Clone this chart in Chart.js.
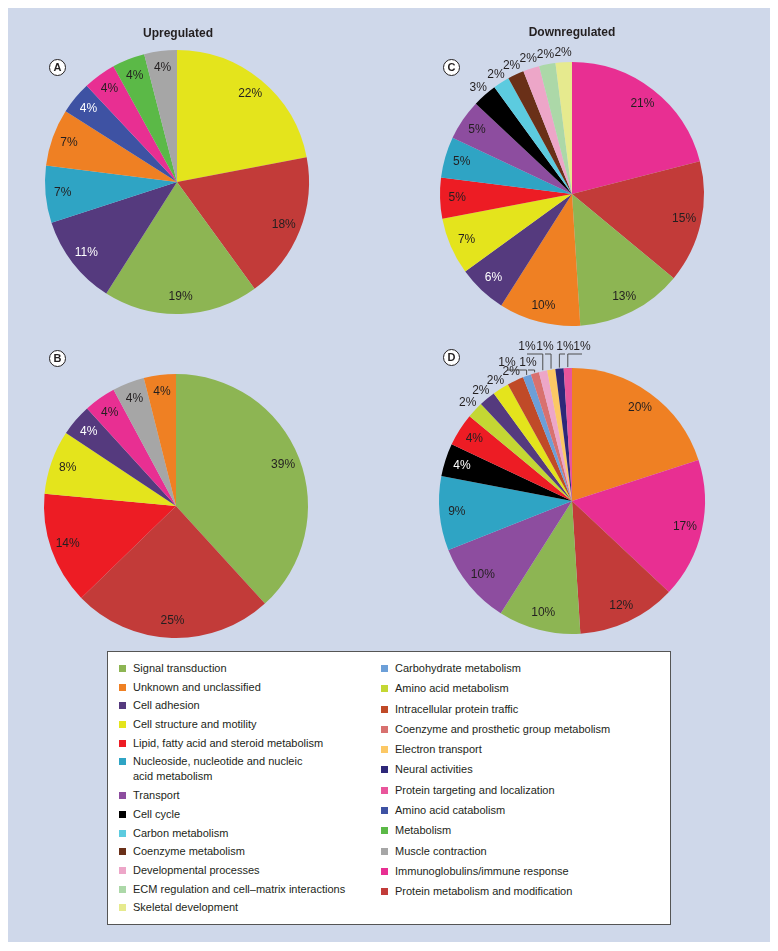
<!DOCTYPE html>
<html>
<head>
<meta charset="utf-8">
<script src="https://cdn.jsdelivr.net/npm/chart.js@4.4.0/dist/chart.umd.min.js"></script>
<style>
  body { margin: 0; background: #fff; font-family: "Liberation Sans", Arial, sans-serif; color: #231f20; }
  #page { position: relative; width: 778px; height: 951px; overflow: hidden; }
  #panel { position: absolute; left: 8px; top: 8px; width: 762px; height: 934px; background: #cfd8ea; }
  canvas.pie { position: absolute; }
  .title { position: absolute; font-weight: bold; font-size: 12px; transform: translate(-50%, -50%); white-space: nowrap; }
  .tag { position: absolute; width: 15px; height: 15px; border: 1.5px solid #231f20; border-radius: 50%;
         background: #fff; font-weight: bold; font-size: 11px; line-height: 15px; text-align: center; }
  #legend { position: absolute; left: 107px; top: 651px; width: 562px; height: 272px; background: #fff; border: 1px solid #555; }
  .col { position: absolute; top: 9px; }
  .item { display: flex; align-items: flex-start; font-size: 11px; line-height: 15px; white-space: pre-line; }
  .sw { width: 7px; height: 7px; margin-top: 4px; margin-right: 7px; flex: none; }
</style>
</head>
<body>
<div id="page">
  <div id="panel"></div>
  <canvas id="chartA" class="pie" width="340" height="340" style="left:7px;top:12px"></canvas>
  <canvas id="chartB" class="pie" width="340" height="340" style="left:6px;top:336px"></canvas>
  <canvas id="chartC" class="pie" width="340" height="340" style="left:402px;top:24px"></canvas>
  <canvas id="chartD" class="pie" width="340" height="340" style="left:402px;top:331px"></canvas>
  <div class="title" style="left:178px;top:33px">Upregulated</div>
  <div class="title" style="left:572px;top:32px">Downregulated</div>
  <div class="tag" style="left:49px;top:59px">A</div>
  <div class="tag" style="left:49px;top:350px">B</div>
  <div class="tag" style="left:443px;top:59px">C</div>
  <div class="tag" style="left:443px;top:349px">D</div>
  <div id="legend">
    <div class="col" id="legLeft" style="left:11px"></div>
    <div class="col" id="legRight" style="left:273px"></div>
  </div>
</div>
<script>
// legend order, two columns
const legendLeft = [
  'Signal transduction',
  'Unknown and unclassified',
  'Cell adhesion',
  'Cell structure and motility',
  'Lipid, fatty acid and steroid metabolism',
  'Nucleoside, nucleotide and nucleic acid metabolism',
  'Transport',
  'Cell cycle',
  'Carbon metabolism',
  'Coenzyme metabolism',
  'Developmental processes',
  'ECM regulation and cell\u2013matrix interactions',
  'Skeletal development'
];
const legendRight = [
  'Carbohydrate metabolism',
  'Amino acid metabolism',
  'Intracellular protein traffic',
  'Coenzyme and prosthetic group metabolism',
  'Electron transport',
  'Neural activities',
  'Protein targeting and localization',
  'Amino acid catabolism',
  'Metabolism',
  'Muscle contraction',
  'Immunoglobulins/immune response',
  'Protein metabolism and modification'
];

// A: upregulated
const catsA = ['Cell structure and motility', 'Protein metabolism and modification', 'Signal transduction',
  'Cell adhesion', 'Nucleoside, nucleotide and nucleic acid metabolism', 'Unknown and unclassified',
  'Amino acid catabolism', 'Immunoglobulins/immune response', 'Metabolism', 'Muscle contraction'];
const valuesA = [22, 18, 19, 11, 7, 7, 4, 4, 4, 4];

// B: upregulated
const catsB = ['Signal transduction', 'Protein metabolism and modification', 'Lipid, fatty acid and steroid metabolism',
  'Cell structure and motility', 'Cell adhesion', 'Immunoglobulins/immune response', 'Muscle contraction',
  'Unknown and unclassified'];
const valuesB = [39, 25, 14, 8, 4, 4, 4, 4];

// C: downregulated
const catsC = ['Immunoglobulins/immune response', 'Protein metabolism and modification', 'Signal transduction',
  'Unknown and unclassified', 'Cell adhesion', 'Cell structure and motility', 'Lipid, fatty acid and steroid metabolism',
  'Nucleoside, nucleotide and nucleic acid metabolism', 'Transport', 'Cell cycle', 'Carbon metabolism',
  'Coenzyme metabolism', 'Developmental processes', 'ECM regulation and cell\u2013matrix interactions',
  'Skeletal development'];
const valuesC = [21, 15, 13, 10, 6, 7, 5, 5, 5, 3, 2, 2, 2, 2, 2];

// D: downregulated
const catsD = ['Unknown and unclassified', 'Immunoglobulins/immune response', 'Protein metabolism and modification',
  'Signal transduction', 'Transport', 'Nucleoside, nucleotide and nucleic acid metabolism', 'Cell cycle',
  'Lipid, fatty acid and steroid metabolism', 'Amino acid metabolism', 'Cell adhesion', 'Cell structure and motility',
  'Intracellular protein traffic', 'Carbohydrate metabolism', 'Coenzyme and prosthetic group metabolism',
  'Developmental processes', 'Electron transport', 'Neural activities', 'Protein targeting and localization'];
const valuesD = [20, 17, 12, 10, 10, 9, 4, 4, 2, 2, 2, 2, 1, 1, 1, 1, 1, 1];

const colorOf = {
  'Signal transduction': '#8db553',
  'Unknown and unclassified': '#ef8023',
  'Cell adhesion': '#553a7e',
  'Cell structure and motility': '#e4e41c',
  'Lipid, fatty acid and steroid metabolism': '#ed1c24',
  'Nucleoside, nucleotide and nucleic acid metabolism': '#2fa4c4',
  'Transport': '#8d4d9f',
  'Cell cycle': '#000000',
  'Carbon metabolism': '#5ccbdf',
  'Coenzyme metabolism': '#6a3018',
  'Developmental processes': '#eda6c8',
  'ECM regulation and cell\u2013matrix interactions': '#acd8a8',
  'Skeletal development': '#e6ea8e',
  'Carbohydrate metabolism': '#6c9fd8',
  'Amino acid metabolism': '#c4d733',
  'Intracellular protein traffic': '#c04a28',
  'Coenzyme and prosthetic group metabolism': '#d8716f',
  'Electron transport': '#fcc865',
  'Neural activities': '#2e2879',
  'Protein targeting and localization': '#e9559b',
  'Amino acid catabolism': '#3e52a3',
  'Metabolism': '#5bb947',
  'Muscle contraction': '#a6a6a6',
  'Immunoglobulins/immune response': '#e82f92',
  'Protein metabolism and modification': '#c23b39'
};
// slices that get white labels
const lightText = ['Cell adhesion', 'Amino acid catabolism', 'Cell cycle', 'Neural activities'];

function buildLegend(el, names) {
  names.forEach(name => {
    const row = document.createElement('div');
    row.className = 'item';
    row.style.paddingBottom = el.id === 'legLeft' ? '3.7px' : '5.3px';
    const sw = document.createElement('span');
    sw.className = 'sw';
    sw.style.background = colorOf[name];
    const txt = document.createElement('span');
    txt.textContent = name.replace('nucleic acid', 'nucleic\nacid');
    row.appendChild(sw);
    row.appendChild(txt);
    el.appendChild(row);
  });
}
buildLegend(document.getElementById('legLeft'), legendLeft);
buildLegend(document.getElementById('legRight'), legendRight);

// percentage labels: inside, outside, or with leader lines
const pctLabels = {
  id: 'pctLabels',
  afterDatasetsDraw(chart, args, opts) {
    const ctx = chart.ctx;
    const meta = chart.getDatasetMeta(0);
    const ds = chart.data.datasets[0];
    ctx.save();
    ctx.font = '12px "Liberation Sans", Arial, sans-serif';
    ctx.textAlign = 'center';
    ctx.textBaseline = 'middle';
    ctx.strokeStyle = '#4d4d4d';
    ctx.lineWidth = 1;
    meta.data.forEach((arc, i) => {
      const v = ds.data[i];
      const text = v + '%';
      const mid = (arc.startAngle + arc.endAngle) / 2;
      const r = arc.outerRadius;
      const lead = opts.leaders && opts.leaders[i];
      if (lead) {
        const ex = arc.x + Math.cos(mid) * (r + 1);
        const ey = arc.y + Math.sin(mid) * (r + 1);
        const lx = arc.x + lead[0], ly = arc.y + lead[1];
        ctx.beginPath();
        ctx.moveTo(lx, ly + 7);
        ctx.lineTo(ex, ly + 7);
        ctx.lineTo(ex, ey);
        ctx.stroke();
        ctx.fillStyle = '#231f20';
        ctx.fillText(text, lx, ly);
      } else if (v <= opts.outsideMax) {
        const d = r * 1.075;
        ctx.fillStyle = '#231f20';
        ctx.fillText(text, arc.x + Math.cos(mid) * d, arc.y + Math.sin(mid) * d);
      } else {
        const d = r * 0.87;
        ctx.fillStyle = lightText.includes(chart.data.labels[i]) ? '#ffffff' : '#231f20';
        ctx.fillText(text, arc.x + Math.cos(mid) * d, arc.y + Math.sin(mid) * d);
      }
    });
    ctx.restore();
  }
};

function makePie(id, cats, values, labelOpts, pad) {
  new Chart(document.getElementById(id), {
    type: 'pie',
    data: {
      labels: cats,
      datasets: [{
        data: values,
        backgroundColor: cats.map(c => colorOf[c]),
        borderWidth: 0,
        hoverOffset: 0
      }]
    },
    options: {
      responsive: false,
      animation: false,
      events: [],
      layout: { padding: pad },
      plugins: {
        legend: { display: false },
        tooltip: { enabled: false },
        pctLabels: labelOpts
      }
    },
    plugins: [pctLabels]
  });
}

makePie('chartA', catsA, valuesA, { outsideMax: 0 }, 38);
makePie('chartB', catsB, valuesB, { outsideMax: 0 }, 38);
makePie('chartC', catsC, valuesC, { outsideMax: 3 }, 38);
makePie('chartD', catsD, valuesD, {
  outsideMax: 2,
  // label offsets from the centre for the 1% slices
  leaders: { 12: [-65, -138], 13: [-44, -138], 14: [-45, -154], 15: [-27, -154], 16: [-7, -154], 17: [10, -154] }
}, 37);
</script>
</body>
</html>
